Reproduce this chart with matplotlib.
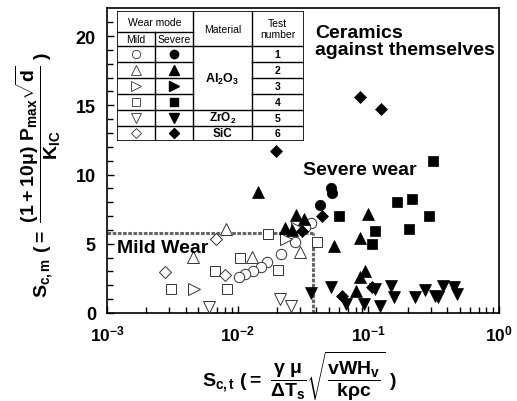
import matplotlib
matplotlib.use("Agg")
import matplotlib.pyplot as plt
from matplotlib.ticker import LogLocator, FixedLocator, NullFormatter

plt.rcParams['font.family'] = ['Liberation Sans', 'DejaVu Sans']
plt.rcParams['font.weight'] = 'bold'
plt.rcParams['mathtext.fontset'] = 'custom'
plt.rcParams['mathtext.rm'] = 'Liberation Sans:bold'
plt.rcParams['mathtext.it'] = 'Liberation Sans:bold'
plt.rcParams['mathtext.bf'] = 'Liberation Sans:bold'
plt.rcParams['mathtext.sf'] = 'Liberation Sans:bold'

# ---- data (S_c,t , S_c,m) ----
t1_mild_x = [0.0275, 0.0362, 0.0325, 0.0213, 0.0169, 0.0151, 0.0132, 0.0113, 0.0103]
t1_mild_y = [5.13, 6.53, 6.19, 4.24, 3.65, 3.33, 3.04, 2.81, 2.57]
t1_sev_x = [0.0514, 0.0529, 0.0427]
t1_sev_y = [9.04, 8.68, 7.77]

t2_mild_x = [0.00816, 0.00454, 0.0129, 0.0300]
t2_mild_y = [6.09, 4.01, 4.05, 4.41]
t2_sev_x = [0.0142, 0.0279, 0.0322, 0.0231, 0.0262, 0.0545, 0.0990, 0.0871, 0.0951, 0.0871, 0.0798]
t2_sev_y = [8.73, 7.05, 6.81, 6.17, 5.99, 4.84, 7.17, 5.45, 3.04, 2.57, 1.60]

t3_mild_x = [0.0286, 0.0233, 0.00462]
t3_mild_y = [6.17, 5.35, 1.73]
t3_sev_x = []
t3_sev_y = []

t4_mild_x = [0.0171, 0.0406, 0.0105, 0.00676, 0.0202, 0.00311, 0.0083]
t4_mild_y = [5.68, 5.13, 3.96, 3.0, 3.12, 1.73, 1.73]
t4_sev_x = [0.0600, 0.315, 0.166, 0.215, 0.292, 0.112, 0.203, 0.107]
t4_sev_y = [7.03, 11.0, 8.01, 8.2, 7.0, 5.92, 6.04, 5.01]

t5_mild_x = [0.00601, 0.0210, 0.0255]
t5_mild_y = [0.45, 1.0, 0.53]
t5_sev_x = [0.0367, 0.0514, 0.0669, 0.0923, 0.1132, 0.1222, 0.148, 0.158,
            0.2285, 0.272, 0.324, 0.344, 0.371, 0.4525, 0.474]
t5_sev_y = [1.44, 1.85, 0.65, 0.65, 1.73, 0.53, 1.96, 1.17,
            1.17, 1.65, 1.24, 1.13, 1.96, 1.89, 1.37]

t6_mild_x = [0.00685, 0.00806, 0.00277]
t6_mild_y = [5.37, 2.73, 2.93]
t6_sev_x = [0.0871, 0.1258, 0.0198, 0.0444, 0.1067, 0.0630, 0.0311]
t6_sev_y = [15.59, 14.73, 11.68, 7.0, 1.89, 1.24, 5.9]

# mild / severe boundary
sct_crit = 0.038
scm_crit = 5.8

test_numbers = ['1', '2', '3', '4', '5', '6']
materials = [r'Al$_\mathbf{2}$O$_\mathbf{3}$', r'ZrO$_\mathbf{2}$', 'SiC']
xticks = [1e-3, 1e-2, 1e-1, 1e0]
xticklabels = [r'$10^{-3}$', r'$10^{-2}$', r'$10^{-1}$', r'$10^{0}$']
yticks = [0, 5, 10, 15, 20]

mild = [(t1_mild_x, t1_mild_y), (t2_mild_x, t2_mild_y), (t3_mild_x, t3_mild_y),
        (t4_mild_x, t4_mild_y), (t5_mild_x, t5_mild_y), (t6_mild_x, t6_mild_y)]
severe = [(t1_sev_x, t1_sev_y), (t2_sev_x, t2_sev_y), (t3_sev_x, t3_sev_y),
          (t4_sev_x, t4_sev_y), (t5_sev_x, t5_sev_y), (t6_sev_x, t6_sev_y)]
markers = ['o', '^', '>', 's', 'v', 'D']
msizes = [7.5, 8.5, 8.5, 7, 8.5, 5.8]

fig = plt.figure(figsize=(5.17, 4.02), dpi=100)
ax = fig.add_axes([107/517, 88/402, 392/517, 304.7/402])

for (mx, my), (sx, sy), m, s in zip(mild, severe, markers, msizes):
    ax.plot(mx, my, ls='none', marker=m, ms=s, mfc='white', mec='#333333', mew=0.7, zorder=3)
    ax.plot(sx, sy, ls='none', marker=m, ms=s, mfc='black', mec='black', mew=0.5, zorder=4)

# boundary lines
ax.plot([1e-3, sct_crit], [scm_crit, scm_crit], color='#666666', lw=2.2, ls=(0, (1.2, 0.5)), zorder=2)
ax.plot([sct_crit, sct_crit], [0, scm_crit], color='#666666', lw=2.2, ls=(0, (1.2, 0.5)), zorder=2)

ax.set_xscale('log')
ax.set_xlim(1e-3, 1)
ax.set_ylim(0, 22)
ax.xaxis.set_major_locator(FixedLocator(xticks))
ax.set_xticklabels(xticklabels)
ax.xaxis.set_minor_locator(LogLocator(base=10, subs=range(2, 10)))
ax.xaxis.set_minor_formatter(NullFormatter())
ax.set_yticks(yticks)
ax.set_yticks(range(0, 22), minor=True)
ax.tick_params(which='both', direction='in', top=False, right=False, width=1.0)
ax.tick_params(which='major', length=5, labelsize=13)
ax.tick_params(which='minor', length=4)
ax.tick_params(axis='x', which='major', pad=7.5, labelsize=12.5)
ax.tick_params(axis='y', which='major', pad=8)
for lab in ax.get_xticklabels() + ax.get_yticklabels():
    lab.set_fontweight('bold')
for sp in ax.spines.values():
    sp.set_linewidth(1.2)

ax.text(0.039, 20.9, 'Ceramics\nagainst themselves', fontsize=14, fontweight='bold',
        va='top', ha='left', linespacing=1.0)
ax.text(0.0317, 10.35, 'Severe wear', fontsize=14, fontweight='bold', va='center', ha='left')
ax.text(1.19e-3, 4.7, 'Mild Wear', fontsize=14, fontweight='bold', va='center', ha='left')

# axis labels
fig.text(0.075, 0.565,
         r'$S_{c,m}\ (=\ \dfrac{(1+10\mu)\ P_{max}\sqrt{d}}{K_{IC}}\ )$',
         rotation=90, ha='center', va='center', fontsize=14)
fig.text(0.58, 0.064,
         r'$S_{c,t}\ (=\ \dfrac{\gamma\ \mu}{\Delta T_s}\sqrt{\dfrac{vWH_v}{k\rho c}}\ )$',
         ha='center', va='center', fontsize=14)

# legend table (drawn in its own pixel-unit axes)
tx0, tx1, ty0, ty1 = 117, 303.5, 12.3, 141.7
tb = fig.add_axes([tx0/517, (402-ty1)/402, (tx1-tx0)/517, (ty1-ty0)/402], zorder=5)
tb.set_xlim(tx0, tx1)
tb.set_ylim(ty1, ty0)
tb.axis('off')
tb.add_patch(plt.Rectangle((tx0, ty0), tx1-tx0, ty1-ty0, fc='white', ec='black', lw=1.2))
c_ms, c_mat, c_test = 155, 193.3, 251.7
hdr_mid, hdr_bot = 33.3, 47.3
rows = [47.3, 63.3, 79.3, 95, 111, 126.7, 141.7]
lw_t = 1.0
tb.plot([c_mat, c_mat], [ty0, ty1], color='black', lw=lw_t)
tb.plot([c_test, c_test], [ty0, ty1], color='black', lw=lw_t)
tb.plot([c_ms, c_ms], [hdr_mid, ty1], color='black', lw=lw_t)
tb.plot([tx0, c_mat], [hdr_mid, hdr_mid], color='black', lw=lw_t)
tb.plot([tx0, tx1], [hdr_bot, hdr_bot], color='black', lw=lw_t)
for r in rows[1:-1]:
    tb.plot([tx0, c_mat], [r, r], color='black', lw=lw_t)
    tb.plot([c_test, tx1], [r, r], color='black', lw=lw_t)
tb.plot([c_mat, c_test], [rows[4], rows[4]], color='black', lw=lw_t)
tb.plot([c_mat, c_test], [rows[5], rows[5]], color='black', lw=lw_t)

fs = 7.5
tb.text((tx0+c_mat)/2, (ty0+hdr_mid)/2, 'Wear mode', ha='center', va='center', fontsize=fs, fontweight='normal')
tb.text((tx0+c_ms)/2, (hdr_mid+hdr_bot)/2, 'Mild', ha='center', va='center', fontsize=fs, fontweight='normal')
tb.text((c_ms+c_mat)/2, (hdr_mid+hdr_bot)/2, 'Severe', ha='center', va='center', fontsize=fs, fontweight='normal')
tb.text((c_mat+c_test)/2, (ty0+hdr_bot)/2, 'Material', ha='center', va='center', fontsize=fs, fontweight='normal')
tb.text((c_test+tx1)/2, (ty0+hdr_bot)/2, 'Test\nnumber', ha='center', va='center', fontsize=fs,
        fontweight='normal', linespacing=1.1)
tsizes = [6, 6.5, 6.5, 5.5, 6.5, 5]
for i, (m, num, s) in enumerate(zip(markers, test_numbers, tsizes)):
    yc = (rows[i] + rows[i+1]) / 2
    tb.plot([(tx0+c_ms)/2], [yc], ls='none', marker=m, ms=s, mfc='white', mec='#333333', mew=0.6)
    tb.plot([(c_ms+c_mat)/2], [yc], ls='none', marker=m, ms=s, mfc='black', mec='black')
    tb.text((c_test+tx1)/2, yc, num, ha='center', va='center', fontsize=fs, fontweight='bold')
tb.text((c_mat+c_test)/2, (rows[0]+rows[4])/2, materials[0], ha='center', va='center', fontsize=9)
tb.text((c_mat+c_test)/2, (rows[4]+rows[5])/2, materials[1], ha='center', va='center', fontsize=8.5)
tb.text((c_mat+c_test)/2, (rows[5]+rows[6])/2, materials[2], ha='center', va='center', fontsize=8.5)

fig.savefig('out.png', dpi=100)
